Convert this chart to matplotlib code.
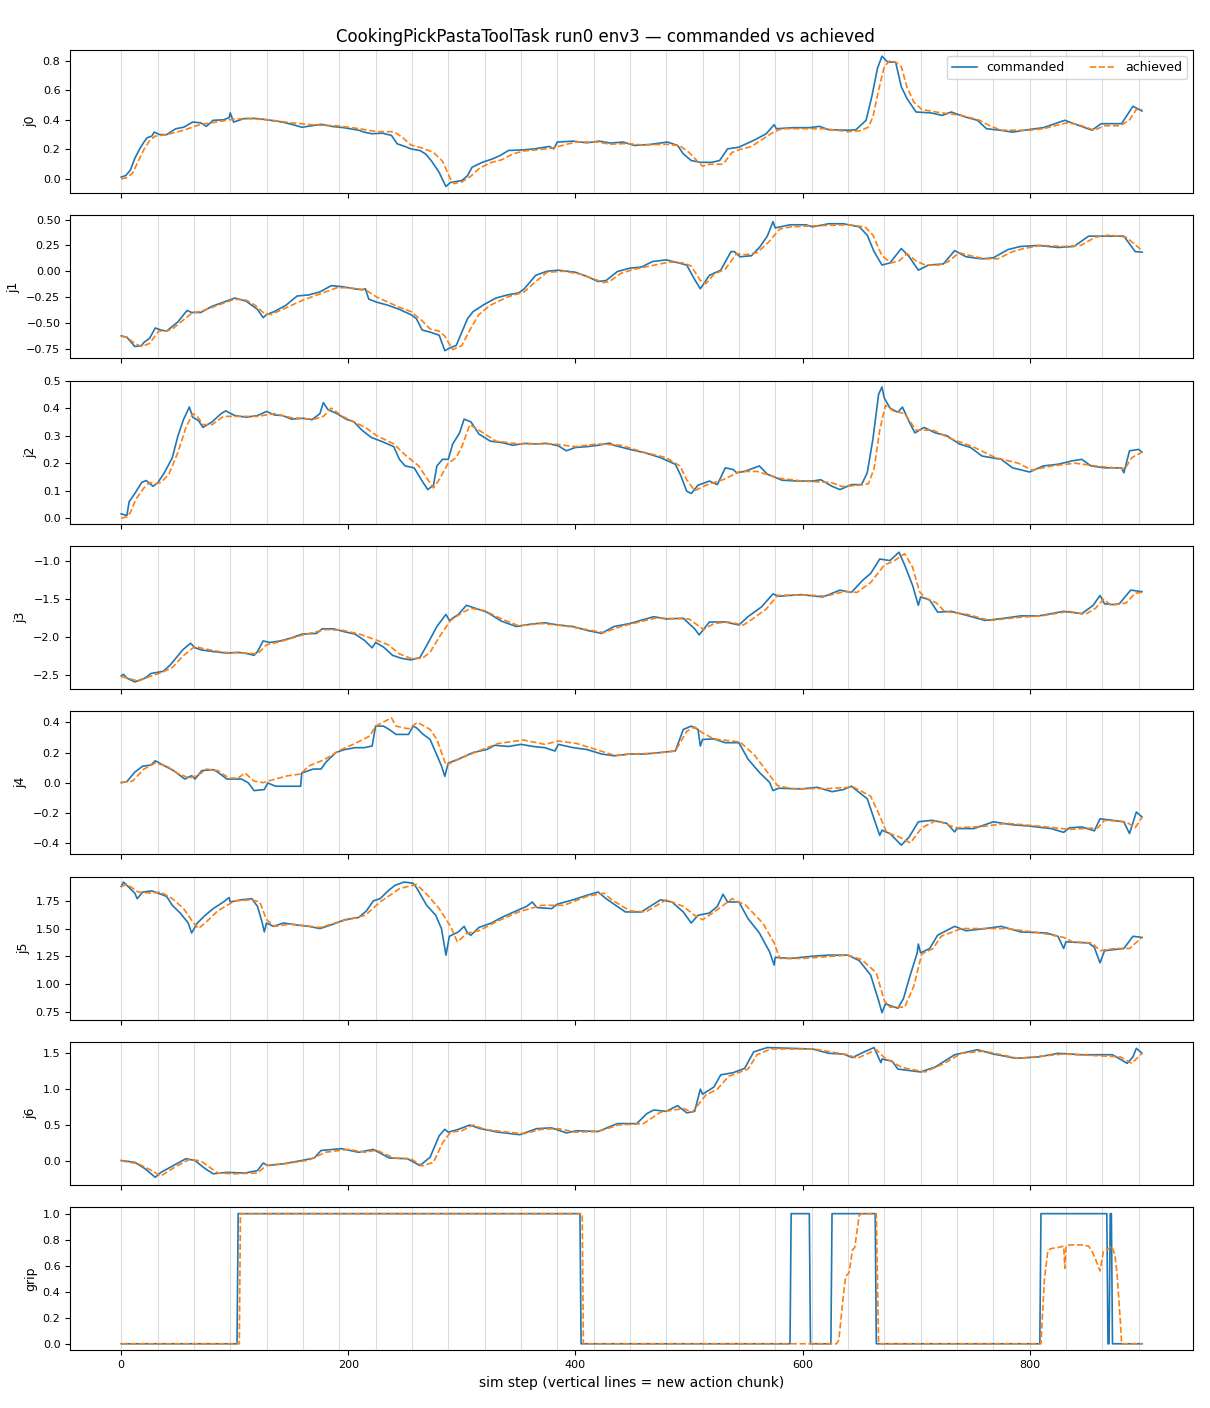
import matplotlib
matplotlib.use("Agg")
import matplotlib.pyplot as plt

TITLE = "CookingPickPastaToolTask run0 env3 \u2014 commanded vs achieved"
XLABEL = "sim step (vertical lines = new action chunk)"
JOINTS = ["j0", "j1", "j2", "j3", "j4", "j5", "j6", "grip"]

# sim steps where a new action chunk starts
chunk_starts = [0, 32, 64, 96, 128, 160, 192, 224, 256, 288, 320, 352, 384, 416,
                448, 480, 512, 544, 576, 608, 640, 672, 704, 736, 768, 800, 832,
                864, 896]

# (step, value) pairs
j0_cmd = [(0, 0.013), (4, 0.024), (8, 0.06), (12, 0.14), (16, 0.20), (20, 0.25), (23, 0.28),
          (27, 0.29), (29, 0.317), (34, 0.30), (40, 0.30), (48, 0.34), (55, 0.35), (63, 0.385),
          (70, 0.38), (75, 0.356), (81, 0.397), (90, 0.40), (95, 0.415), (96, 0.447), (99, 0.385),
          (108, 0.408), (118, 0.41), (129, 0.40), (142, 0.385), (150, 0.37), (159, 0.35),
          (168, 0.36), (176, 0.37), (186, 0.355), (196, 0.347), (209, 0.33), (215, 0.315),
          (221, 0.306), (230, 0.31), (238, 0.295), (243, 0.238), (250, 0.22), (255, 0.204),
          (263, 0.193), (268, 0.17), (273, 0.125), (280, 0.045), (284, -0.02), (286, -0.05),
          (290, -0.023), (300, -0.01), (305, 0.023), (309, 0.08), (318, 0.113), (327, 0.136),
          (334, 0.16), (341, 0.193), (354, 0.197), (364, 0.204), (377, 0.22), (381, 0.204),
          (384, 0.25), (398, 0.256), (410, 0.245), (421, 0.256), (431, 0.243), (442, 0.25),
          (452, 0.227), (466, 0.234), (481, 0.25), (490, 0.227), (495, 0.17), (502, 0.125),
          (510, 0.113), (520, 0.113), (527, 0.125), (534, 0.204), (544, 0.215), (558, 0.265),
          (568, 0.306), (575, 0.367), (577, 0.34), (592, 0.347), (606, 0.347), (615, 0.356),
          (623, 0.333), (640, 0.33), (647, 0.333), (656, 0.397), (661, 0.556), (666, 0.748),
          (670, 0.83), (675, 0.79), (682, 0.79), (687, 0.624), (692, 0.544), (700, 0.453),
          (713, 0.447), (723, 0.43), (731, 0.453), (743, 0.42), (754, 0.397), (762, 0.34),
          (774, 0.33), (785, 0.317), (798, 0.333), (812, 0.347), (831, 0.397), (839, 0.374),
          (855, 0.33), (863, 0.374), (881, 0.374), (891, 0.492), (899, 0.46)]
j0_ach = [(0, 0.0), (5, 0.01), (10, 0.04), (15, 0.12), (20, 0.20), (25, 0.26), (30, 0.29),
          (40, 0.30), (55, 0.33), (70, 0.37), (80, 0.38), (95, 0.40), (110, 0.41), (130, 0.40),
          (150, 0.38), (170, 0.365), (190, 0.36), (210, 0.34), (225, 0.32), (240, 0.32),
          (248, 0.28), (255, 0.23), (265, 0.21), (275, 0.18), (283, 0.12), (290, 0.0),
          (293, -0.03), (300, -0.02), (308, 0.02), (315, 0.07), (325, 0.11), (335, 0.13),
          (345, 0.17), (355, 0.19), (370, 0.20), (380, 0.21), (390, 0.23), (400, 0.25),
          (420, 0.25), (430, 0.235), (445, 0.24), (460, 0.23), (480, 0.235), (492, 0.225),
          (500, 0.18), (505, 0.14), (512, 0.086), (518, 0.10), (530, 0.10), (538, 0.18),
          (545, 0.20), (555, 0.22), (565, 0.27), (575, 0.32), (582, 0.34), (600, 0.34),
          (620, 0.34), (640, 0.32), (650, 0.325), (658, 0.35), (662, 0.42), (667, 0.60),
          (672, 0.76), (677, 0.80), (682, 0.79), (687, 0.76), (692, 0.62), (698, 0.52),
          (705, 0.47), (720, 0.45), (740, 0.43), (755, 0.40), (765, 0.36), (775, 0.33),
          (800, 0.33), (812, 0.34), (833, 0.38), (842, 0.37), (857, 0.33), (866, 0.36),
          (880, 0.36), (888, 0.40), (894, 0.47), (899, 0.47)]

j1_cmd = [(0, -0.627), (5, -0.64), (12, -0.73), (18, -0.72), (20, -0.69), (25, -0.65),
          (30, -0.55), (35, -0.57), (40, -0.58), (50, -0.49), (58, -0.38), (62, -0.40),
          (70, -0.40), (80, -0.34), (90, -0.30), (100, -0.26), (110, -0.29), (120, -0.37),
          (125, -0.45), (128, -0.42), (135, -0.39), (145, -0.33), (155, -0.24), (165, -0.23),
          (175, -0.20), (185, -0.14), (195, -0.15), (205, -0.17), (212, -0.18), (215, -0.17),
          (218, -0.27), (225, -0.30), (235, -0.33), (245, -0.37), (255, -0.42), (260, -0.46),
          (265, -0.57), (272, -0.59), (280, -0.62), (285, -0.77), (290, -0.74), (295, -0.72),
          (300, -0.59), (305, -0.46), (310, -0.39), (320, -0.32), (330, -0.26), (340, -0.23),
          (350, -0.21), (355, -0.17), (365, -0.04), (375, 0.0), (385, 0.01), (400, -0.01),
          (410, -0.05), (420, -0.10), (427, -0.09), (437, -0.003), (448, 0.03), (458, 0.04),
          (468, 0.094), (480, 0.11), (491, 0.08), (498, 0.06), (505, -0.08), (510, -0.17),
          (518, -0.04), (528, 0.01), (537, 0.19), (540, 0.19), (545, 0.14), (555, 0.15),
          (562, 0.23), (569, 0.34), (574, 0.48), (576, 0.42), (589, 0.45), (603, 0.45),
          (609, 0.43), (623, 0.46), (636, 0.46), (650, 0.43), (657, 0.35), (663, 0.19),
          (670, 0.06), (677, 0.08), (687, 0.22), (694, 0.14), (702, 0.01), (711, 0.06),
          (724, 0.07), (734, 0.20), (744, 0.14), (758, 0.12), (768, 0.13), (781, 0.21),
          (792, 0.24), (808, 0.25), (825, 0.23), (839, 0.24), (852, 0.34), (866, 0.34),
          (883, 0.34), (893, 0.19), (899, 0.185)]
j1_ach = [(0, -0.63), (5, -0.64), (12, -0.70), (18, -0.73), (25, -0.70), (33, -0.58),
          (40, -0.58), (45, -0.56), (55, -0.47), (63, -0.40), (70, -0.39), (85, -0.33),
          (100, -0.27), (110, -0.28), (118, -0.33), (126, -0.41), (132, -0.42), (140, -0.38),
          (150, -0.33), (160, -0.28), (170, -0.24), (180, -0.20), (190, -0.16), (200, -0.16),
          (215, -0.18), (225, -0.25), (235, -0.30), (245, -0.35), (255, -0.39), (265, -0.48),
          (272, -0.56), (280, -0.58), (285, -0.63), (292, -0.76), (300, -0.72), (308, -0.55),
          (315, -0.42), (325, -0.33), (340, -0.25), (355, -0.20), (365, -0.10), (375, -0.01),
          (390, 0.0), (405, -0.03), (415, -0.07), (425, -0.11), (430, -0.10), (440, -0.02),
          (452, 0.02), (470, 0.06), (483, 0.09), (495, 0.08), (502, 0.05), (510, -0.09),
          (515, -0.12), (522, -0.03), (532, 0.02), (542, 0.17), (550, 0.16), (560, 0.18),
          (570, 0.28), (580, 0.41), (590, 0.43), (610, 0.44), (640, 0.45), (655, 0.43),
          (662, 0.35), (670, 0.15), (678, 0.08), (685, 0.10), (692, 0.17), (700, 0.10),
          (708, 0.06), (720, 0.06), (728, 0.09), (738, 0.18), (748, 0.15), (760, 0.12),
          (772, 0.12), (785, 0.19), (795, 0.22), (810, 0.25), (830, 0.24), (845, 0.25),
          (858, 0.33), (870, 0.35), (885, 0.33), (897, 0.22), (899, 0.19)]

j2_cmd = [(0, 0.016), (3, 0.012), (5, 0.01), (7, 0.06), (12, 0.09), (18, 0.13), (22, 0.137),
          (28, 0.116), (32, 0.128), (38, 0.165), (45, 0.22), (50, 0.30), (55, 0.36), (60, 0.404),
          (63, 0.367), (68, 0.355), (72, 0.33), (80, 0.35), (88, 0.38), (92, 0.39), (100, 0.373),
          (110, 0.367), (120, 0.373), (128, 0.388), (135, 0.375), (142, 0.373), (150, 0.36),
          (160, 0.363), (168, 0.358), (175, 0.38), (178, 0.42), (182, 0.395), (190, 0.38),
          (198, 0.36), (205, 0.35), (212, 0.32), (220, 0.294), (230, 0.278), (240, 0.26),
          (245, 0.214), (250, 0.19), (258, 0.183), (265, 0.135), (270, 0.104), (275, 0.12),
          (278, 0.19), (283, 0.214), (288, 0.214), (292, 0.27), (298, 0.31), (302, 0.36),
          (308, 0.35), (315, 0.306), (325, 0.28), (335, 0.275), (345, 0.265), (355, 0.272),
          (365, 0.27), (375, 0.272), (385, 0.263), (392, 0.245), (400, 0.257), (410, 0.26),
          (420, 0.265), (430, 0.273), (434, 0.265), (448, 0.25), (461, 0.238), (475, 0.22),
          (488, 0.196), (493, 0.153), (498, 0.098), (502, 0.09), (508, 0.12), (518, 0.135),
          (525, 0.122), (532, 0.183), (539, 0.177), (542, 0.165), (549, 0.17), (562, 0.19),
          (569, 0.16), (582, 0.138), (596, 0.135), (609, 0.135), (616, 0.14), (626, 0.116),
          (633, 0.104), (643, 0.122), (652, 0.122), (657, 0.165), (662, 0.287), (667, 0.45),
          (670, 0.477), (672, 0.437), (677, 0.40), (684, 0.385), (688, 0.404), (694, 0.35),
          (699, 0.31), (707, 0.33), (717, 0.31), (727, 0.30), (738, 0.27), (748, 0.257),
          (758, 0.226), (775, 0.214), (785, 0.183), (800, 0.168), (812, 0.19), (825, 0.196),
          (837, 0.208), (846, 0.214), (854, 0.19), (866, 0.183), (881, 0.183), (883, 0.165),
          (888, 0.245), (896, 0.25), (899, 0.24)]
j2_ach = [(0, 0.0), (5, 0.005), (8, 0.02), (13, 0.07), (20, 0.11), (25, 0.13), (30, 0.125),
          (35, 0.13), (42, 0.16), (50, 0.24), (57, 0.33), (63, 0.38), (67, 0.37), (72, 0.34),
          (80, 0.34), (90, 0.37), (100, 0.37), (120, 0.37), (135, 0.38), (150, 0.365),
          (170, 0.36), (178, 0.37), (185, 0.40), (195, 0.37), (205, 0.35), (215, 0.33),
          (225, 0.30), (240, 0.27), (250, 0.23), (262, 0.19), (270, 0.14), (275, 0.11),
          (280, 0.14), (288, 0.20), (295, 0.22), (300, 0.26), (307, 0.34), (315, 0.32),
          (330, 0.28), (350, 0.27), (380, 0.27), (400, 0.26), (420, 0.27), (440, 0.265),
          (460, 0.24), (480, 0.22), (492, 0.19), (498, 0.14), (505, 0.10), (515, 0.12),
          (530, 0.14), (545, 0.17), (560, 0.17), (580, 0.145), (600, 0.135), (625, 0.13),
          (635, 0.115), (650, 0.12), (658, 0.125), (663, 0.18), (668, 0.32), (673, 0.41),
          (680, 0.39), (690, 0.38), (700, 0.32), (715, 0.32), (730, 0.29), (750, 0.26),
          (770, 0.22), (790, 0.20), (802, 0.175), (820, 0.19), (840, 0.20), (858, 0.19),
          (870, 0.185), (884, 0.18), (890, 0.22), (899, 0.24)]

j3_cmd = [(0, -2.51), (2, -2.49), (5, -2.54), (12, -2.59), (21, -2.54), (26, -2.48),
          (37, -2.45), (43, -2.37), (48, -2.28), (54, -2.17), (61, -2.08), (65, -2.14),
          (71, -2.17), (81, -2.19), (93, -2.21), (103, -2.20), (112, -2.22), (117, -2.24),
          (120, -2.19), (125, -2.05), (131, -2.07), (140, -2.05), (150, -2.01), (159, -1.96),
          (172, -1.95), (177, -1.89), (187, -1.89), (197, -1.93), (206, -1.96), (214, -2.04),
          (221, -2.14), (224, -2.07), (231, -2.13), (239, -2.24), (247, -2.28), (255, -2.30),
          (263, -2.27), (269, -2.11), (278, -1.86), (286, -1.70), (289, -1.78), (297, -1.70),
          (304, -1.58), (310, -1.61), (322, -1.67), (335, -1.79), (348, -1.86), (360, -1.83),
          (373, -1.81), (385, -1.84), (398, -1.86), (410, -1.91), (423, -1.95), (434, -1.86),
          (448, -1.82), (469, -1.73), (480, -1.76), (495, -1.75), (505, -1.89), (509, -1.97),
          (518, -1.80), (532, -1.80), (544, -1.84), (552, -1.73), (564, -1.60), (574, -1.43),
          (579, -1.46), (599, -1.44), (618, -1.47), (633, -1.38), (643, -1.41), (653, -1.25),
          (660, -1.16), (668, -0.97), (677, -0.99), (685, -0.88), (690, -1.05), (697, -1.32),
          (702, -1.58), (704, -1.47), (712, -1.51), (719, -1.67), (731, -1.66), (744, -1.71),
          (761, -1.78), (778, -1.75), (792, -1.72), (808, -1.72), (830, -1.66), (846, -1.69),
          (856, -1.58), (862, -1.45), (866, -1.56), (873, -1.57), (879, -1.56), (889, -1.38),
          (899, -1.40)]
j3_ach = [(0, -2.52), (8, -2.55), (15, -2.58), (25, -2.52), (35, -2.47), (45, -2.40),
          (55, -2.24), (65, -2.12), (72, -2.15), (90, -2.20), (110, -2.21), (120, -2.22),
          (128, -2.10), (140, -2.06), (160, -1.97), (180, -1.90), (195, -1.91), (210, -1.96),
          (225, -2.04), (235, -2.10), (245, -2.22), (255, -2.28), (265, -2.28), (272, -2.20),
          (280, -2.00), (290, -1.78), (300, -1.68), (308, -1.62), (320, -1.65), (335, -1.76),
          (350, -1.85), (370, -1.82), (390, -1.85), (410, -1.90), (425, -1.94), (440, -1.86),
          (470, -1.75), (500, -1.76), (513, -1.90), (522, -1.82), (535, -1.80), (548, -1.84),
          (555, -1.77), (568, -1.63), (578, -1.45), (600, -1.44), (620, -1.46), (637, -1.40),
          (648, -1.41), (660, -1.28), (672, -1.05), (680, -1.00), (690, -0.90), (697, -1.08),
          (703, -1.40), (708, -1.48), (718, -1.55), (725, -1.66), (745, -1.70), (765, -1.78),
          (790, -1.74), (810, -1.72), (835, -1.66), (849, -1.70), (858, -1.62), (865, -1.50),
          (872, -1.58), (885, -1.55), (893, -1.42), (899, -1.41)]

j4_cmd = [(0, 0.0), (5, 0.007), (12, 0.07), (19, 0.11), (26, 0.116), (30, 0.145), (37, 0.116),
          (46, 0.08), (56, 0.024), (62, 0.046), (65, 0.024), (71, 0.08), (81, 0.086), (85, 0.07),
          (93, 0.024), (106, 0.024), (112, -0.002), (117, -0.053), (126, -0.046), (129, -0.002),
          (136, -0.024), (147, -0.024), (158, -0.024), (159, 0.064), (169, 0.09), (176, 0.09),
          (180, 0.134), (189, 0.20), (197, 0.22), (206, 0.232), (214, 0.232), (221, 0.243),
          (224, 0.375), (231, 0.375), (236, 0.353), (242, 0.32), (253, 0.32), (257, 0.375),
          (260, 0.364), (266, 0.32), (272, 0.287), (277, 0.20), (282, 0.112), (285, 0.042),
          (288, 0.13), (297, 0.156), (310, 0.20), (322, 0.22), (329, 0.248), (341, 0.24),
          (352, 0.254), (363, 0.24), (373, 0.232), (382, 0.21), (385, 0.254), (398, 0.232),
          (410, 0.22), (423, 0.19), (434, 0.178), (448, 0.19), (461, 0.19), (475, 0.20),
          (488, 0.21), (495, 0.353), (502, 0.375), (508, 0.353), (510, 0.243), (512, 0.287),
          (522, 0.29), (532, 0.265), (544, 0.265), (552, 0.156), (562, 0.068), (571, 0.002),
          (574, -0.053), (579, -0.037), (599, -0.042), (613, -0.031), (626, -0.06),
          (636, -0.046), (643, -0.024), (657, -0.107), (663, -0.24), (668, -0.35),
          (670, -0.316), (677, -0.338), (687, -0.415), (694, -0.36), (702, -0.26), (714, -0.25),
          (727, -0.27), (734, -0.327), (736, -0.305), (751, -0.305), (768, -0.26), (785, -0.28),
          (798, -0.287), (819, -0.305), (830, -0.33), (835, -0.30), (846, -0.294), (857, -0.32),
          (862, -0.24), (873, -0.25), (883, -0.26), (888, -0.338), (894, -0.195), (899, -0.228)]
j4_ach = [(0, 0.0), (10, 0.01), (20, 0.09), (30, 0.13), (40, 0.11), (50, 0.06), (60, 0.03),
          (68, 0.05), (75, 0.09), (85, 0.08), (95, 0.03), (103, 0.03), (109, 0.064), (117, 0.01),
          (125, 0.0), (134, 0.02), (147, 0.046), (158, 0.057), (165, 0.11), (178, 0.15),
          (194, 0.22), (206, 0.26), (219, 0.31), (224, 0.375), (238, 0.43), (242, 0.375),
          (253, 0.357), (261, 0.40), (272, 0.353), (278, 0.287), (286, 0.116), (291, 0.134),
          (304, 0.178), (322, 0.232), (332, 0.26), (354, 0.283), (373, 0.254), (385, 0.276),
          (401, 0.26), (413, 0.232), (435, 0.18), (448, 0.19), (470, 0.195), (488, 0.21),
          (498, 0.34), (505, 0.37), (512, 0.33), (522, 0.29), (545, 0.27), (558, 0.18),
          (568, 0.08), (578, -0.02), (590, -0.04), (620, -0.04), (645, -0.03), (660, -0.09),
          (668, -0.22), (674, -0.33), (685, -0.36), (695, -0.40), (705, -0.30), (718, -0.25),
          (735, -0.30), (760, -0.29), (780, -0.27), (810, -0.29), (835, -0.31), (860, -0.30),
          (866, -0.25), (885, -0.26), (893, -0.30), (899, -0.23)]

j5_cmd = [(0, 1.88), (2, 1.92), (7, 1.87), (12, 1.82), (14, 1.77), (19, 1.83), (27, 1.84),
          (35, 1.81), (40, 1.79), (45, 1.71), (52, 1.64), (59, 1.55), (62, 1.46), (67, 1.55),
          (74, 1.62), (81, 1.68), (90, 1.74), (95, 1.78), (96, 1.74), (106, 1.76), (115, 1.77),
          (120, 1.70), (124, 1.56), (126, 1.47), (128, 1.55), (134, 1.52), (143, 1.55),
          (156, 1.53), (165, 1.52), (175, 1.50), (184, 1.53), (197, 1.58), (209, 1.60),
          (216, 1.66), (222, 1.75), (228, 1.77), (235, 1.84), (241, 1.89), (249, 1.92),
          (257, 1.91), (260, 1.87), (269, 1.71), (277, 1.62), (282, 1.50), (286, 1.26),
          (289, 1.43), (297, 1.47), (302, 1.52), (305, 1.46), (308, 1.44), (315, 1.51),
          (326, 1.55), (335, 1.60), (348, 1.66), (357, 1.70), (362, 1.74), (366, 1.69),
          (379, 1.68), (384, 1.72), (398, 1.76), (410, 1.80), (420, 1.83), (427, 1.77),
          (444, 1.65), (458, 1.65), (475, 1.76), (485, 1.74), (495, 1.65), (502, 1.55),
          (508, 1.62), (518, 1.64), (525, 1.70), (530, 1.81), (534, 1.74), (544, 1.74),
          (552, 1.59), (562, 1.46), (571, 1.29), (575, 1.17), (576, 1.24), (589, 1.23),
          (609, 1.25), (623, 1.26), (640, 1.26), (650, 1.21), (660, 1.08), (667, 0.85),
          (670, 0.74), (673, 0.82), (684, 0.78), (689, 0.87), (694, 1.05), (701, 1.28),
          (702, 1.36), (704, 1.28), (712, 1.32), (719, 1.44), (734, 1.52), (744, 1.48),
          (761, 1.50), (775, 1.52), (792, 1.47), (815, 1.46), (825, 1.43), (830, 1.32),
          (832, 1.38), (852, 1.37), (857, 1.33), (862, 1.19), (866, 1.30), (883, 1.32),
          (891, 1.43), (899, 1.42)]
j5_ach = [(0, 1.88), (5, 1.90), (15, 1.83), (25, 1.82), (35, 1.83), (45, 1.77), (55, 1.68),
          (63, 1.56), (68, 1.50), (75, 1.56), (85, 1.66), (100, 1.75), (115, 1.76), (122, 1.74),
          (128, 1.58), (135, 1.52), (150, 1.54), (175, 1.51), (195, 1.57), (215, 1.62),
          (228, 1.74), (245, 1.86), (260, 1.90), (270, 1.80), (280, 1.68), (290, 1.52),
          (296, 1.38), (305, 1.46), (315, 1.48), (330, 1.56), (350, 1.65), (370, 1.71),
          (390, 1.71), (410, 1.79), (425, 1.82), (432, 1.76), (448, 1.66), (462, 1.65),
          (480, 1.76), (495, 1.70), (505, 1.62), (512, 1.58), (525, 1.67), (538, 1.77),
          (550, 1.71), (565, 1.55), (575, 1.37), (580, 1.23), (600, 1.23), (640, 1.26),
          (652, 1.22), (665, 1.10), (672, 0.85), (677, 0.79), (690, 0.79), (698, 0.98),
          (705, 1.27), (715, 1.32), (722, 1.43), (740, 1.50), (780, 1.50), (810, 1.46),
          (830, 1.42), (838, 1.38), (855, 1.37), (862, 1.30), (875, 1.32), (888, 1.32),
          (899, 1.42)]

j6_cmd = [(0, 0.005), (12, -0.02), (21, -0.11), (30, -0.23), (35, -0.16), (46, -0.065),
          (57, 0.03), (65, 0.005), (74, -0.11), (81, -0.18), (93, -0.16), (109, -0.17),
          (120, -0.135), (125, -0.03), (129, -0.065), (143, -0.04), (159, 0.005), (170, 0.04),
          (176, 0.145), (194, 0.17), (209, 0.12), (222, 0.16), (236, 0.04), (252, 0.03),
          (263, -0.065), (272, 0.05), (280, 0.35), (285, 0.44), (288, 0.40), (297, 0.44),
          (307, 0.50), (316, 0.45), (332, 0.40), (351, 0.365), (366, 0.45), (379, 0.46),
          (392, 0.39), (401, 0.42), (420, 0.41), (437, 0.52), (454, 0.52), (463, 0.66),
          (469, 0.71), (480, 0.69), (490, 0.77), (498, 0.67), (505, 0.69), (510, 1.0),
          (512, 0.93), (522, 1.03), (528, 1.20), (539, 1.23), (549, 1.29), (557, 1.52),
          (569, 1.58), (589, 1.57), (609, 1.56), (623, 1.50), (636, 1.49), (644, 1.44),
          (653, 1.51), (663, 1.58), (669, 1.37), (670, 1.42), (679, 1.39), (684, 1.28),
          (704, 1.24), (717, 1.31), (734, 1.48), (754, 1.55), (768, 1.49), (788, 1.43),
          (808, 1.45), (825, 1.50), (846, 1.48), (873, 1.48), (886, 1.36), (891, 1.45),
          (894, 1.57), (899, 1.50)]
j6_ach = [(0, 0.0), (15, -0.04), (25, -0.12), (35, -0.21), (48, -0.08), (60, 0.02), (70, 0.0),
          (85, -0.17), (100, -0.18), (120, -0.17), (128, -0.06), (145, -0.04), (165, 0.01),
          (180, 0.12), (200, 0.16), (215, 0.12), (225, 0.15), (240, 0.04), (255, 0.03),
          (265, -0.07), (275, -0.02), (283, 0.25), (290, 0.40), (300, 0.42), (310, 0.50),
          (320, 0.44), (340, 0.40), (355, 0.38), (370, 0.44), (385, 0.45), (400, 0.40),
          (420, 0.41), (438, 0.50), (460, 0.52), (475, 0.68), (495, 0.73), (503, 0.68),
          (515, 0.92), (525, 1.00), (535, 1.18), (552, 1.28), (560, 1.48), (572, 1.56),
          (610, 1.56), (640, 1.48), (648, 1.43), (665, 1.55), (672, 1.44), (688, 1.30),
          (708, 1.24), (725, 1.36), (740, 1.50), (760, 1.53), (790, 1.43), (830, 1.49),
          (880, 1.45), (890, 1.36), (899, 1.50)]

grip_cmd = [(0, 0), (102, 0), (103, 1), (404, 1), (405, 0), (589, 0), (590, 1), (606, 1),
            (607, 0), (625, 0), (626, 1), (664, 1), (665, 0), (809, 0), (810, 1), (868, 1),
            (869, 0), (870, 0), (871, 1), (872, 1), (873, 0), (899, 0)]
grip_ach = [(0, 0), (104, 0), (105, 1), (406, 1), (407, 0), (630, 0), (632, 0.03), (636, 0.37),
            (638, 0.52), (641, 0.545), (644, 0.72), (646, 0.74), (650, 0.99), (653, 1.0),
            (665, 1.0), (667, 0), (810, 0), (813, 0.49), (816, 0.71), (818, 0.73), (825, 0.74),
            (830, 0.75), (831, 0.58), (832, 0.75), (835, 0.76), (845, 0.76), (852, 0.75),
            (855, 0.71), (858, 0.65), (862, 0.56), (865, 0.71), (868, 0.72), (872, 0.75),
            (875, 0.69), (877, 0.54), (880, 0.16), (881, 0), (899, 0)]

commanded = [j0_cmd, j1_cmd, j2_cmd, j3_cmd, j4_cmd, j5_cmd, j6_cmd, grip_cmd]
achieved = [j0_ach, j1_ach, j2_ach, j3_ach, j4_ach, j5_ach, j6_ach, grip_ach]

YLIMS = [(-0.095, 0.872), (-0.845, 0.542), (-0.02, 0.5), (-2.684, -0.797),
         (-0.476, 0.474), (0.677, 1.97), (-0.336, 1.66), (-0.05, 1.05)]


def main():
    fig, axes = plt.subplots(len(JOINTS), 1, figsize=(12.1, 14.08), sharex=True)
    fig.subplots_adjust(left=0.058, right=0.986, top=0.9645, bottom=0.041, hspace=0.155)

    for i, ax in enumerate(axes):
        cx, cy = zip(*commanded[i])
        ax_, ay = zip(*achieved[i])
        for s in chunk_starts:
            ax.axvline(s, color="0.86", linewidth=0.8, zorder=0)
        ax.plot(cx, cy, color="tab:blue", linewidth=1.2, label="commanded")
        ax.plot(ax_, ay, color="tab:orange", linewidth=1.2, linestyle="--", label="achieved")
        ax.set_ylabel(JOINTS[i], fontsize=9)
        ax.set_ylim(*YLIMS[i])
        ax.tick_params(axis="both", labelsize=8)

    axes[0].legend(loc="upper right", ncol=2, fontsize=9)
    axes[-1].set_xlabel(XLABEL, fontsize=10)
    fig.suptitle(TITLE, fontsize=12, y=0.98)

    fig.savefig("out.png", dpi=100)


if __name__ == "__main__":
    main()
